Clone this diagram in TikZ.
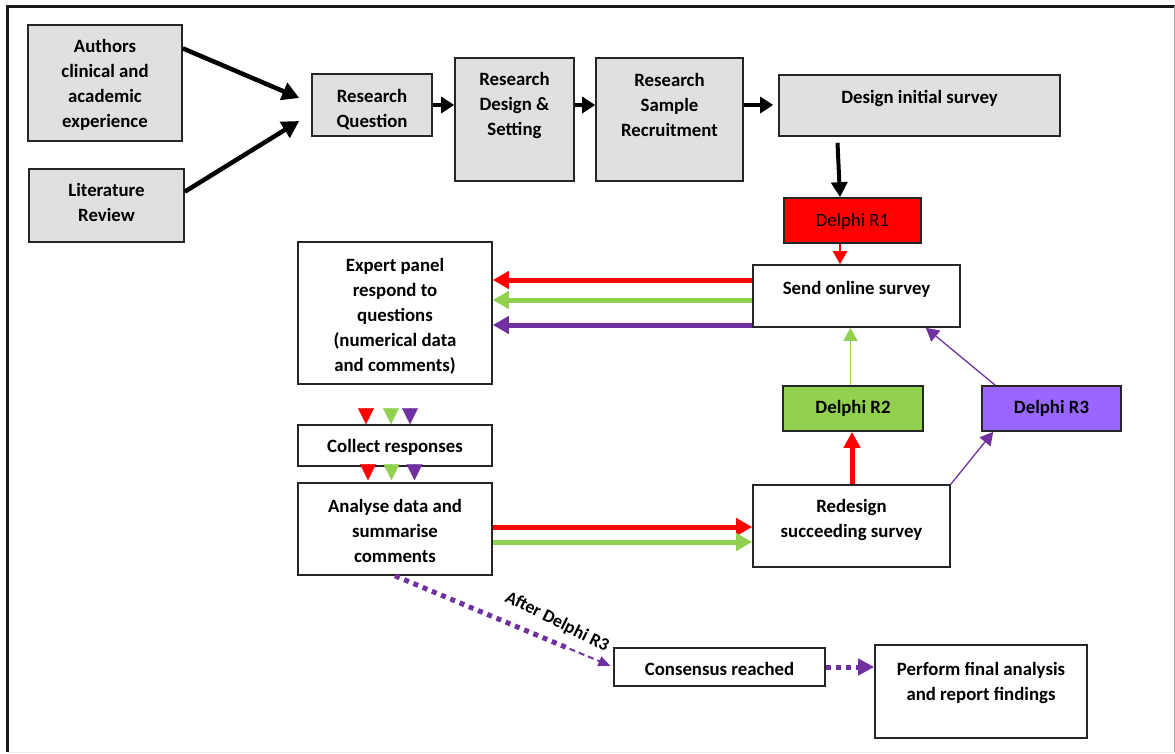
\documentclass[tikz,border=0pt]{standalone}
\usepackage{fontspec}
\setmainfont{Carlito}
\usetikzlibrary{arrows.meta,calc}
\definecolor{boxgray}{RGB}{224,224,224}
\definecolor{dred}{RGB}{255,0,0}
\definecolor{dgreen}{RGB}{146,208,80}
\definecolor{dpurple}{RGB}{112,48,160}
\definecolor{dlilac}{RGB}{153,102,255}
\begin{document}
\begin{tikzpicture}[x=1pt,y=-1pt,
  box/.style={draw=black!85, line width=1.6pt, rectangle, inner sep=0pt},
  gbox/.style={box, fill=boxgray},
  txt/.style={font=\fontsize{18.8}{25}\selectfont\bfseries, align=center, inner sep=0pt,
    execute at begin node=\strut, execute at end node=\strut},
  rtxt/.style={txt, font=\fontsize{18.8}{25}\selectfont},
  lbl/.style={font=\fontsize{18}{22}\selectfont\bfseries, inner sep=0pt},
  blk/.style={line width=4.5pt, black, -{Triangle[length=17pt,width=18pt]}},
  blks/.style={line width=4.5pt, black, -{Triangle[length=13pt,width=16pt]}},
  thick5/.style={line width=5pt, -{Triangle[length=16pt,width=17pt]}},
  thin1/.style={line width=1.3pt, -{Triangle[length=13pt,width=14pt]}},
  tri/.style={line width=0.1pt, -{Triangle[length=16pt,width=16pt]}},
]
\useasboundingbox (0,0) rectangle (1175,754);
% frame
\draw[line width=3pt, black!90] (7.5,752) -- (7.5,6.5) -- (1175,6.5);
\draw[line width=1pt, gray!70] (1174.5,6.5) -- (1174.5,752);
\draw[line width=1pt, gray!15] (7.5,752.5) -- (1175,752.5);

% boxes
\node[gbox, minimum width=154, minimum height=116] (auth) at (105,83) {};
\node[gbox, minimum width=155, minimum height=73] (lit) at (106.5,205.5) {};
\node[gbox, minimum width=120, minimum height=62] (rq) at (372,105) {};
\node[gbox, minimum width=119, minimum height=123] (rds) at (514.5,119.5) {};
\node[gbox, minimum width=147, minimum height=123] (rsr) at (669.5,119.5) {};
\node[gbox, minimum width=281, minimum height=61] (dis) at (919.5,105.5) {};
\node[box, fill=dred, minimum width=137, minimum height=45] (r1) at (852.5,220.5) {};
\node[box, fill=white, minimum width=207, minimum height=62] (send) at (856.5,296) {};
\node[box, fill=white, minimum width=194, minimum height=142] (exp) at (395,313) {};
\node[box, fill=white, minimum width=194, minimum height=41] (col) at (395,445.5) {};
\node[box, fill=white, minimum width=194, minimum height=92] (ana) at (395,529) {};
\node[box, fill=white, minimum width=197, minimum height=82] (red) at (851.5,526) {};
\node[box, fill=dgreen, minimum width=140, minimum height=45] (r2) at (853,408.5) {};
\node[box, fill=dlilac, minimum width=139, minimum height=45] (r3) at (1051.5,408.5) {};
\node[box, fill=white, minimum width=211, minimum height=38] (cons) at (719.5,667) {};
\node[box, fill=white, minimum width=212, minimum height=93] (perf) at (981,691.5) {};

% texts
\node[txt] (tauth) at (105,87.5) {Authors\\clinical and\\academic\\experience};
\node[txt] (tlit) at (106.5,206.5) {Literature\\Review};
\node[txt] (trq) at (372,112.5) {Research\\Question};
\node[txt] (trds) at (514.5,108) {Research\\Design \&\\Setting};
\node[txt] (trsr) at (669.5,108.5) {Research\\Sample\\Recruitment};
\node[txt] (tdis) at (919.5,99) {Design initial survey};
\node[rtxt] (tr1) at (852.5,221) {Delphi R1};
\node[txt] (tsend) at (856.5,289) {Send online survey};
\node[txt] (texp) at (395,319) {Expert panel\\respond to\\questions\\(numerical data\\and comments)};
\node[txt] (tcol) at (395,447) {Collect responses};
\node[txt] (tana) at (395,535) {Analyse data and\\summarise\\comments};
\node[txt] (tred) at (851.5,522.5) {Redesign\\succeeding survey};
\node[txt] (tr2) at (853,408.5) {Delphi R2};
\node[txt] (tr3) at (1051.5,408.5) {Delphi R3};
\node[txt] (tcons) at (719.5,670) {Consensus reached};
\node[txt] (tperf) at (981,685.5) {Perform final analysis\\and report findings};

% black arrows
\draw[blk] (auth.24) -- ($(rq.west)+(-12,-7)$);
\draw[blk] (lit.10) -- ($(rq.west)+(-12,16)$);
\draw[blks] (rq.east) -- (rq.east -| rds.west);
\draw[blks] (rq.east -| rds.east) -- (rq.east -| rsr.west);
\draw[blks, shorten >=5pt] (rq.east -| rsr.east) -- (rq.east -| dis.west);
\draw[line width=4pt, black, -{Triangle[length=15pt,width=16pt]}] ($(dis.south)+(-82,6)$) -- ($(r1.north)+(-12.5,0)$);
\draw[dred, line width=2.5pt, -{Triangle[length=13pt,width=14pt]}] ($(r1.south)+(-12.5,0)$) -- ($(send.north)+(-16.5,0)$);

% send -> expert
\draw[thick5, dred] ($(send.west)+(0,-16)$) -- ($(exp.east)+(0,-33)$);
\draw[thick5, dgreen] ($(send.west)+(0,4)$) -- ($(exp.east)+(0,-13)$);
\draw[thick5, dpurple] ($(send.west)+(0,29)$) -- ($(exp.east)+(0,12)$);

% triangles expert -> collect -> analyse
\draw[tri, dred, shorten <=24pt] ($(exp.south)+(-29,0)$) -- ($(col.north)+(-29,0)$);
\draw[tri, dgreen, shorten <=24pt] ($(exp.south)+(-4,0)$) -- ($(col.north)+(-4,0)$);
\draw[tri, dpurple, shorten <=24pt] ($(exp.south)+(15,0)$) -- ($(col.north)+(15,0)$);
\draw[tri, dred, shorten <=1pt] ($(col.south)+(-27,0)$) -- ($(ana.north)+(-27,-2)$);
\draw[tri, dgreen, shorten <=1pt] ($(col.south)+(-3.5,0)$) -- ($(ana.north)+(-3.5,-2)$);
\draw[tri, dpurple, shorten <=1pt] ($(col.south)+(19.5,0)$) -- ($(ana.north)+(19.5,-2)$);

% analyse -> redesign
\draw[thick5, dred] ($(ana.east)+(0,-2)$) -- ($(red.west)+(0,1)$);
\draw[thick5, dgreen] ($(ana.east)+(0,13)$) -- ($(red.west)+(0,16)$);

% redesign loop
\draw[dred, line width=5pt, -{Triangle[length=16pt,width=16pt]}] ($(red.north)+(0.5,0)$) -- ($(r2.south)+(-1,0)$);
\draw[thin1, dgreen] ($(r2.north)+(-2.5,0)$) -- ($(send.south)+(-6,0)$);
\draw[thin1, dpurple] (red.north east) -- ($(r3.south west)+(12,0)$);
\draw[thin1, dpurple] ($(r3.north west)+(14,0)$) -- ($(send.south east)+(-35,0)$);

% consensus
\coordinate (dm) at ($(ana.south)!0.8!(cons.west)$);
\draw[dpurple, line width=5pt, dash pattern=on 5pt off 5pt] (ana.south) -- (dm);
\draw[dpurple, line width=2pt, dash pattern=on 6pt off 4pt, shorten >=3pt, -{Triangle[length=12pt,width=10pt]}] (dm) -- (cons.west);
\node[lbl, rotate=-26.5] (aft) at (557,622) {After Delphi R3};
\draw[dpurple, line width=5pt, dash pattern=on 5pt off 5pt, -{Triangle[length=16pt,width=16pt]}] (cons.east) -- (cons.east -| perf.west);
\end{tikzpicture}
\end{document}
